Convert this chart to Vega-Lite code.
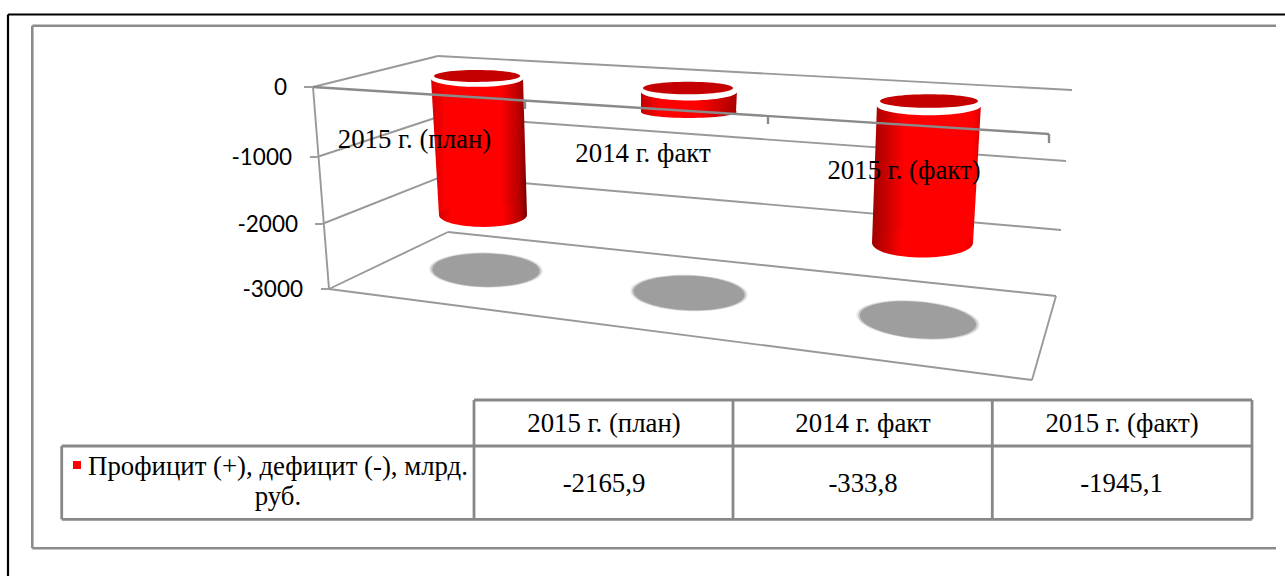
{
"$schema":"https://vega.github.io/schema/vega-lite/v6.json",
"width":1285,"height":576,"padding":0,"autosize":{"type":"none"},
"background":"white","config":{"view":{"stroke":null}},
"datasets":{
"budget":[{"category":"2015 г. (план)","value":-2165.9},{"category":"2014 г. факт","value":-333.8},{"category":"2015 г. (факт)","value":-1945.1}],
"back":[
{"at":313,"level":0,"at2":438,"level2":456},{"at":438,"level":456,"at2":1072,"level2":-43},
{"at":317,"level":-1000,"at2":441,"level2":-414},{"at":441,"level":-414,"at2":1066,"level2":-1060},
{"at":322,"level":-2000,"at2":443,"level2":-1284},{"at":443,"level":-1284,"at2":1061,"level2":-2092},
{"at":329,"level":-3000,"at2":448,"level2":-2123},{"at":448,"level":-2123,"at2":1056,"level2":-3105},
{"at":1056,"level":-3105,"at2":1032,"level2":-4359},{"at":1032,"level":-4359,"at2":329,"level2":-3000},
{"at":313,"level":0,"at2":329,"level2":-3000},
{"at":304,"level":0,"at2":313,"level2":0},{"at":310,"level":-1000,"at2":317,"level2":-1000},
{"at":315,"level":-2000,"at2":322,"level2":-2000},{"at":321,"level":-3000,"at2":329,"level2":-3000}],
"front":[{"at":313,"level":0,"at2":1049,"level2":-671},{"at":525,"level":-193,"at2":525,"level2":-314},
{"at":768,"level":-414,"at2":768,"level2":-529},{"at":1049,"level":-671,"at2":1049,"level2":-800}],
"outer":[{"at":8,"level":14.5,"at2":1285,"level2":14.5},{"at":8,"level":14.5,"at2":8,"level2":576}],
"inner":[{"at":32.3,"level":25.8,"at2":1276,"level2":25.8},{"at":32.3,"level":25.8,"at2":32.3,"level2":548.3},{"at":32.3,"level":548.3,"at2":1276,"level2":548.3}],
"table":[{"at":474,"level":400,"at2":1252,"level2":400},{"at":61.7,"level":446,"at2":1252,"level2":446},{"at":61.7,"level":519.3,"at2":1252,"level2":519.3},
{"at":61.7,"level":446,"at2":61.7,"level2":519.3},{"at":474,"level":400,"at2":474,"level2":519.3},{"at":733,"level":400,"at2":733,"level2":519.3},{"at":992.3,"level":400,"at2":992.3,"level2":519.3},{"at":1252,"level":400,"at2":1252,"level2":519.3}]
},
"data":{"name":"budget"},
"transform":[
{"calculate":"indexof(['2015 г. (план)','2014 г. факт','2015 г. (факт)'],datum.category)","as":"i"},
{"calculate":"[132,-43,-243][datum.i]","as":"top"},
{"calculate":"datum.top+datum.value*[0.9225,0.94,1.053][datum.i]","as":"base"},
{"calculate":"replace(''+datum.value,'.',',')","as":"valueText"}
],
"layer":[
{"layer":[
{"data":{"name":"back"},"mark":{"type":"rule","stroke":"#999999","strokeWidth":1.9},
"encoding":{"x":{"field":"at","type":"quantitative","scale":{"domain":[0,1285],"nice":false,"zero":false},"axis":null},"x2":{"field":"at2"},
"y":{"field":"level","type":"quantitative","scale":{"domain":[-7284,-3000,-2000,-1000,0,1279],"range":[576,289,224,157,87,0],"zero":false,"nice":false},"axis":null},"y2":{"field":"level2"}}},
{"data":{"values":[{"center":486,"k":0},{"center":689,"k":1},{"center":918,"k":2}]},
"transform":[{"calculate":"[-2708,-3060,-3463][datum.k]","as":"lvl"},{"calculate":"[1,0.97,0.94]","as":"f"},{"calculate":"['#ececec','#c6c6c6','#9e9e9e']","as":"c"},{"flatten":["f","c"]},{"calculate":"pow(2*[57,59,62][datum.k]*datum.f,2)","as":"s"},{"calculate":"[1,2,5][datum.k]","as":"a"}],
"mark":{"type":"point","filled":true,"opacity":1,"shape":"M-1,0A1,0.31 0 1,1 1,0A1,0.31 0 1,1 -1,0Z"},
"encoding":{"x":{"field":"center","type":"quantitative","scale":{"domain":[0,1285],"nice":false,"zero":false},"axis":null},
"y":{"field":"lvl","type":"quantitative","scale":{"domain":[-7284,-3000,-2000,-1000,0,1279],"range":[576,289,224,157,87,0],"zero":false,"nice":false},"axis":null},
"size":{"field":"s","type":"quantitative","scale":null},"fill":{"field":"c","type":"nominal","scale":null},"angle":{"field":"a","type":"quantitative","scale":null}}},
{"transform":[{"filter":"datum.i==0"},{"calculate":"[datum.top,datum.base]","as":"yv"},{"calculate":"[431,439]","as":"xl"},{"calculate":"[523,527]","as":"xr"},{"flatten":["yv","xl","xr"]}],
"mark":{"type":"area","orient":"horizontal","fill":{"x1":0,"x2":1,"y1":0,"y2":0,"gradient":"linear","stops":[{"offset":0,"color":"#d80000"},{"offset":0.15,"color":"#ff0000"},{"offset":0.72,"color":"#ff0000"},{"offset":0.92,"color":"#b80000"},{"offset":1,"color":"#780000"}]}},
"encoding":{"y":{"field":"yv","type":"quantitative","scale":{"domain":[-7284,-3000,-2000,-1000,0,1279],"range":[576,289,224,157,87,0],"zero":false,"nice":false},"axis":null},"x":{"field":"xl","type":"quantitative","scale":{"domain":[0,1285],"nice":false,"zero":false},"axis":null},"x2":{"field":"xr"}}},
{"transform":[{"filter":"datum.i==0"},{"calculate":"483","as":"cx"}],
"mark":{"type":"point","filled":true,"opacity":1,"size":7744,"shape":"M-1,0A1,0.27 0 1,1 1,0A1,0.27 0 1,1 -1,0Z","fill":{"x1":0,"x2":1,"y1":0,"y2":0,"gradient":"linear","stops":[{"offset":0,"color":"#d80000"},{"offset":0.15,"color":"#ff0000"},{"offset":0.72,"color":"#ff0000"},{"offset":0.92,"color":"#b80000"},{"offset":1,"color":"#780000"}]}},
"encoding":{"y":{"field":"base","type":"quantitative","scale":{"domain":[-7284,-3000,-2000,-1000,0,1279],"range":[576,289,224,157,87,0],"zero":false,"nice":false},"axis":null},"x":{"field":"cx","type":"quantitative","scale":{"domain":[0,1285],"nice":false,"zero":false},"axis":null}}},
{"transform":[{"filter":"datum.i==1"},{"calculate":"[datum.top,datum.base]","as":"yv"},{"calculate":"[641,641]","as":"xl"},{"calculate":"[737,736]","as":"xr"},{"flatten":["yv","xl","xr"]}],
"mark":{"type":"area","orient":"horizontal","fill":{"x1":0,"x2":1,"y1":0,"y2":0,"gradient":"linear","stops":[{"offset":0,"color":"#c00000"},{"offset":0.2,"color":"#ff0000"},{"offset":0.6,"color":"#ff0000"},{"offset":1,"color":"#a80000"}]}},
"encoding":{"y":{"field":"yv","type":"quantitative","scale":{"domain":[-7284,-3000,-2000,-1000,0,1279],"range":[576,289,224,157,87,0],"zero":false,"nice":false},"axis":null},"x":{"field":"xl","type":"quantitative","scale":{"domain":[0,1285],"nice":false,"zero":false},"axis":null},"x2":{"field":"xr"}}},
{"transform":[{"filter":"datum.i==1"},{"calculate":"688.8","as":"cx"}],
"mark":{"type":"point","filled":true,"opacity":1,"size":9120,"shape":"M-1,0A1,0.125 0 1,1 1,0A1,0.125 0 1,1 -1,0Z","fill":{"x1":0,"x2":1,"y1":0,"y2":0,"gradient":"linear","stops":[{"offset":0,"color":"#c00000"},{"offset":0.2,"color":"#ff0000"},{"offset":0.6,"color":"#ff0000"},{"offset":1,"color":"#a80000"}]}},
"encoding":{"y":{"field":"base","type":"quantitative","scale":{"domain":[-7284,-3000,-2000,-1000,0,1279],"range":[576,289,224,157,87,0],"zero":false,"nice":false},"axis":null},"x":{"field":"cx","type":"quantitative","scale":{"domain":[0,1285],"nice":false,"zero":false},"axis":null}}},
{"transform":[{"filter":"datum.i==2"},{"calculate":"[datum.top,datum.base]","as":"yv"},{"calculate":"[877,872]","as":"xl"},{"calculate":"[981,973]","as":"xr"},{"flatten":["yv","xl","xr"]}],
"mark":{"type":"area","orient":"horizontal","fill":{"x1":0,"x2":1,"y1":0,"y2":0,"gradient":"linear","stops":[{"offset":0,"color":"#a00000"},{"offset":0.3,"color":"#ff0000"},{"offset":0.93,"color":"#ff0000"},{"offset":1,"color":"#d80000"}]}},
"encoding":{"y":{"field":"yv","type":"quantitative","scale":{"domain":[-7284,-3000,-2000,-1000,0,1279],"range":[576,289,224,157,87,0],"zero":false,"nice":false},"axis":null},"x":{"field":"xl","type":"quantitative","scale":{"domain":[0,1285],"nice":false,"zero":false},"axis":null},"x2":{"field":"xr"}}},
{"transform":[{"filter":"datum.i==2"},{"calculate":"922.5","as":"cx"}],
"mark":{"type":"point","filled":true,"opacity":1,"size":10201,"shape":"M-1,0A1,0.29 0 1,1 1,0A1,0.29 0 1,1 -1,0Z","fill":{"x1":0,"x2":1,"y1":0,"y2":0,"gradient":"linear","stops":[{"offset":0,"color":"#a00000"},{"offset":0.3,"color":"#ff0000"},{"offset":0.93,"color":"#ff0000"},{"offset":1,"color":"#d80000"}]}},
"encoding":{"y":{"field":"base","type":"quantitative","scale":{"domain":[-7284,-3000,-2000,-1000,0,1279],"range":[576,289,224,157,87,0],"zero":false,"nice":false},"axis":null},"x":{"field":"cx","type":"quantitative","scale":{"domain":[0,1285],"nice":false,"zero":false},"axis":null}}},
{"transform":[{"calculate":"[477,689,929][datum.i]","as":"cx"},{"calculate":"[132,-60,-262][datum.i]","as":"ringY"},{"calculate":"pow([93,97,105][datum.i],2)","as":"s"}],
"mark":{"type":"point","filled":true,"opacity":1,"fill":"#ffffff","shape":"M-1,0A1,0.19 0 1,1 1,0A1,0.19 0 1,1 -1,0Z"},
"encoding":{"y":{"field":"ringY","type":"quantitative","scale":{"domain":[-7284,-3000,-2000,-1000,0,1279],"range":[576,289,224,157,87,0],"zero":false,"nice":false},"axis":null},"x":{"field":"cx","type":"quantitative","scale":{"domain":[0,1285],"nice":false,"zero":false},"axis":null},"size":{"field":"s","type":"quantitative","scale":null}}},
{"transform":[{"calculate":"[477,688,929][datum.i]","as":"cx"},{"calculate":"[162,-14,-200][datum.i]","as":"ringY"},{"calculate":"pow([86,90,98][datum.i],2)","as":"s"}],
"mark":{"type":"point","filled":true,"opacity":1,"fill":"#c40000","shape":"M-1,0A1,0.14 0 1,1 1,0A1,0.14 0 1,1 -1,0Z"},
"encoding":{"y":{"field":"ringY","type":"quantitative","scale":{"domain":[-7284,-3000,-2000,-1000,0,1279],"range":[576,289,224,157,87,0],"zero":false,"nice":false},"axis":null},"x":{"field":"cx","type":"quantitative","scale":{"domain":[0,1285],"nice":false,"zero":false},"axis":null},"size":{"field":"s","type":"quantitative","scale":null}}},
{"data":{"name":"front"},"mark":{"type":"rule","stroke":"#8a8a8a","strokeWidth":2.4},
"encoding":{"x":{"field":"at","type":"quantitative","scale":{"domain":[0,1285],"nice":false,"zero":false},"axis":null},"x2":{"field":"at2"},
"y":{"field":"level","type":"quantitative","scale":{"domain":[-7284,-3000,-2000,-1000,0,1279],"range":[576,289,224,157,87,0],"zero":false,"nice":false},"axis":null},"y2":{"field":"level2"}}},
{"transform":[{"calculate":"[414.5,643,904][datum.i]","as":"cx"},{"calculate":"[-871,-1075,-1328][datum.i]","as":"ly"}],
"mark":{"type":"text","font":"Liberation Serif","fontSize":26.8,"align":"center","baseline":"alphabetic","fill":"#000000"},
"encoding":{"text":{"field":"category"},"y":{"field":"ly","type":"quantitative","scale":{"domain":[-7284,-3000,-2000,-1000,0,1279],"range":[576,289,224,157,87,0],"zero":false,"nice":false},"axis":null},"x":{"field":"cx","type":"quantitative","scale":{"domain":[0,1285],"nice":false,"zero":false},"axis":null}}},
{"data":{"values":[{"tick":0},{"tick":-1000},{"tick":-2000},{"tick":-3000}]},
"transform":[{"calculate":"''+datum.tick","as":"label"},{"calculate":"[287,292,298,303][-datum.tick/1000]","as":"lx"}],
"mark":{"type":"text","font":"Lato","fontSize":22.5,"align":"right","baseline":"middle","dy":1,"fill":"#000000"},
"encoding":{"text":{"field":"label"},"y":{"field":"tick","type":"quantitative","scale":{"domain":[-7284,-3000,-2000,-1000,0,1279],"range":[576,289,224,157,87,0],"zero":false,"nice":false},"axis":null},"x":{"field":"lx","type":"quantitative","scale":{"domain":[0,1285],"nice":false,"zero":false},"axis":null}}}
]},
{"layer":[
{"data":{"name":"outer"},"mark":{"type":"rule","stroke":"#000000","strokeWidth":2.2},
"encoding":{"x":{"field":"at","type":"quantitative","scale":{"domain":[0,1285],"nice":false,"zero":false},"axis":null},"x2":{"field":"at2"},"y":{"field":"level","type":"quantitative","scale":{"domain":[576,0],"nice":false,"zero":false},"axis":null},"y2":{"field":"level2"}}},
{"data":{"name":"inner"},"mark":{"type":"rule","stroke":"#8c8c8c","strokeWidth":2.6},
"encoding":{"x":{"field":"at","type":"quantitative","scale":{"domain":[0,1285],"nice":false,"zero":false},"axis":null},"x2":{"field":"at2"},"y":{"field":"level","type":"quantitative","scale":{"domain":[576,0],"nice":false,"zero":false},"axis":null},"y2":{"field":"level2"}}},
{"data":{"name":"table"},"mark":{"type":"rule","stroke":"#888888","strokeWidth":2.8},
"encoding":{"x":{"field":"at","type":"quantitative","scale":{"domain":[0,1285],"nice":false,"zero":false},"axis":null},"x2":{"field":"at2"},"y":{"field":"level","type":"quantitative","scale":{"domain":[576,0],"nice":false,"zero":false},"axis":null},"y2":{"field":"level2"}}},
{"transform":[{"calculate":"[604,863,1122][datum.i]","as":"cx"}],
"mark":{"type":"text","font":"Liberation Serif","fontSize":26.8,"align":"center","baseline":"alphabetic","fill":"#000000"},
"encoding":{"text":{"field":"category"},"x":{"field":"cx","type":"quantitative","scale":{"domain":[0,1285],"nice":false,"zero":false},"axis":null},"y":{"datum":432,"type":"quantitative","scale":{"domain":[576,0],"nice":false,"zero":false},"axis":null}}},
{"transform":[{"calculate":"[604,863,1121.5][datum.i]","as":"cx"}],
"mark":{"type":"text","font":"Liberation Serif","fontSize":26.8,"align":"center","baseline":"alphabetic","fill":"#000000"},
"encoding":{"text":{"field":"valueText"},"x":{"field":"cx","type":"quantitative","scale":{"domain":[0,1285],"nice":false,"zero":false},"axis":null},"y":{"datum":492,"type":"quantitative","scale":{"domain":[576,0],"nice":false,"zero":false},"axis":null}}},
{"data":{"values":[{"line":"Профицит (+), дефицит (-), млрд.","row":475},{"line":"руб.","row":505}]},
"mark":{"type":"text","font":"Liberation Serif","fontSize":26.8,"align":"center","baseline":"alphabetic","fill":"#000000"},
"encoding":{"text":{"field":"line"},"x":{"datum":278,"type":"quantitative","scale":{"domain":[0,1285],"nice":false,"zero":false},"axis":null},"y":{"field":"row","type":"quantitative","scale":{"domain":[576,0],"nice":false,"zero":false},"axis":null}}},
{"data":{"values":[{"series":"Профицит (+), дефицит (-), млрд. руб."}]},
"mark":{"type":"point","shape":"square","filled":true,"opacity":1,"size":64,"fill":"#ff0000"},
"encoding":{"x":{"datum":77,"type":"quantitative","scale":{"domain":[0,1285],"nice":false,"zero":false},"axis":null},"y":{"datum":465,"type":"quantitative","scale":{"domain":[576,0],"nice":false,"zero":false},"axis":null}}}
]}
],
"resolve":{"scale":{"y":"independent"}}
}
